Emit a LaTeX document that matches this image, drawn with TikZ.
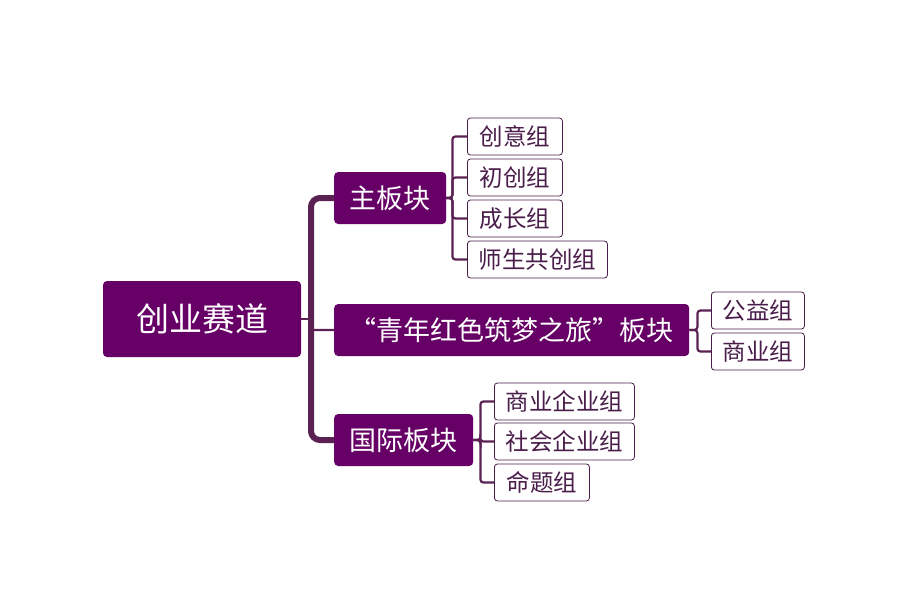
\documentclass[tikz,border=0pt]{standalone}
\usepackage{fontspec}
\setmainfont{Noto Sans CJK SC}
\usetikzlibrary{positioning, backgrounds}
\definecolor{plum}{HTML}{660066}
\definecolor{trunk}{HTML}{5A2152}
\definecolor{leafink}{HTML}{4A1D4A}

\tikzset{
  track/.style={fill=plum, text=white, rounded corners=4pt, inner sep=0pt},
  leaf/.style={draw=leafink, line width=0.8pt, fill=white, text=leafink,
    rounded corners=3pt, inner sep=0pt, minimum height=37pt, anchor=west,
    font=\fontsize{23.5}{23.5}\selectfont},
  twig/.style={draw=trunk, line width=2.2pt, rounded corners=3pt},
  spine/.style={draw=trunk, line width=6pt, rounded corners=9pt}
}

\begin{document}
\begin{tikzpicture}[x=1pt, y=-1pt]
  \useasboundingbox (0,0) rectangle (915,589);

  % root and the three tracks
  \node[track, minimum width=198pt, minimum height=76pt,
    font=\fontsize{33}{33}\selectfont] (root) at (202,319) {创业赛道};
  \node[track, anchor=west, minimum width=112pt, minimum height=52pt,
    font=\fontsize{27}{27}\selectfont] (zhu) at (334,198) {主板块};
  \node[track, anchor=west, minimum width=355pt, minimum height=52pt,
    font=\fontsize{27}{27}\selectfont] (hong) at (334,330) {“青年红色筑梦之旅”板块};
  \node[track, anchor=west, minimum width=139pt, minimum height=52pt,
    font=\fontsize{27}{27}\selectfont] (guoji) at (334,440) {国际板块};

  % groups
  \node[leaf, minimum width=95pt] (cy) at (467,136.5) {创意组};
  \node[leaf, minimum width=95pt] (cc) at (467,177.5) {初创组};
  \node[leaf, minimum width=95pt] (cz) at (467,218.5) {成长组};
  \node[leaf, minimum width=140pt] (ss) at (467,259.5) {师生共创组};
  \node[leaf, minimum width=93pt] (gy) at (711,310.5) {公益组};
  \node[leaf, minimum width=93pt] (sy) at (711,351.5) {商业组};
  \node[leaf, minimum width=140pt] (sq) at (494,401.5) {商业企业组};
  \node[leaf, minimum width=140pt] (sh) at (494,441.5) {社会企业组};
  \node[leaf, minimum width=95pt] (mt) at (494,482.5) {命题组};

  % connectors
  \begin{scope}[on background layer]
  \coordinate (fork) at (311,319);
  \draw[spine] (zhu.west) -| (fork) |- (guoji.west);
  \draw[twig, rounded corners=0pt] (root.east) -- (fork);
  \draw[twig] (fork) |- (hong.west);
  \foreach \l in {cy,cc,cz,ss}
    \draw[twig] (zhu.east) -- ++(6,0) |- (\l.west);
  \foreach \l in {gy,sy}
    \draw[twig] (hong.east) -- ++(8,0) |- (\l.west);
  \foreach \l in {sq,sh,mt}
    \draw[twig] (guoji.east) -- ++(7,0) |- (\l.west);
  \end{scope}
\end{tikzpicture}
\end{document}
